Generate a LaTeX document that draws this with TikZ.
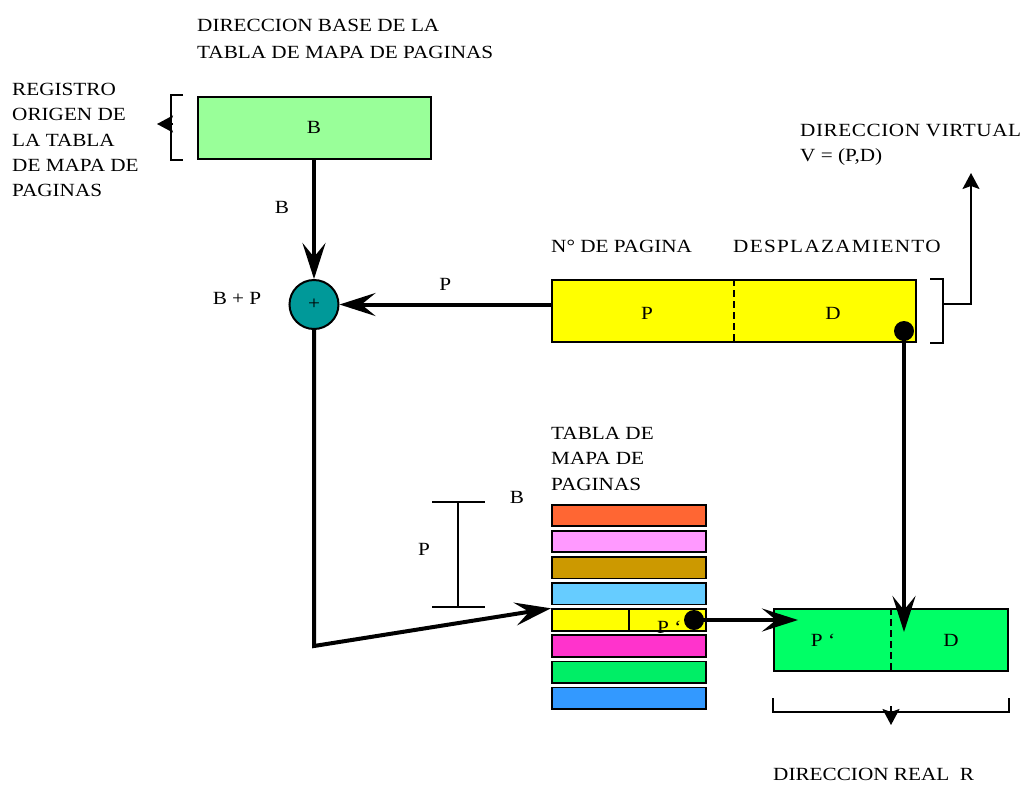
\documentclass[tikz,border=0pt]{standalone}
\usepackage{fontspec}
\setmainfont{Liberation Serif}[FakeStretch=1.14]
\usepackage{tikz}
\usetikzlibrary{arrows.meta,positioning,calc}
\definecolor{regGreen}{HTML}{99FF99}
\definecolor{virtYellow}{HTML}{FFFF00}
\definecolor{realGreen}{HTML}{00FF66}
\definecolor{sumTeal}{HTML}{009999}
\definecolor{rowA}{HTML}{FF6633}
\definecolor{rowB}{HTML}{FF99FF}
\definecolor{rowC}{HTML}{CC9900}
\definecolor{rowD}{HTML}{66CCFF}
\definecolor{rowE}{HTML}{FFFF00}
\definecolor{rowF}{HTML}{FF33CC}
\definecolor{rowG}{HTML}{00EE66}
\definecolor{rowH}{HTML}{3399FF}
\tikzset{
  box/.style={draw,line width=2pt,fill=#1,inner sep=0pt,minimum height=62pt,font=\fontsize{18.6}{25.3}\selectfont},
  box/.default={white},
  arr/.style={-{Stealth[length=36pt,width=23pt,inset=14pt]},line width=4pt},
  thn/.style={line width=1.7pt},
  tip/.style={-{Stealth[length=16pt,width=17pt,inset=3pt]},line width=1.7pt},
  lbl/.style={inner sep=0pt,font=\fontsize{18.6}{25.3}\selectfont},
  row/.style={draw,line width=1.8pt,fill=#1,minimum width=154.4pt,minimum height=21.4pt,inner sep=0pt},
  dsh/.style={line width=2.6pt,dash pattern=on 7pt off 4pt},
  dot/.style={circle,fill=black,minimum size=20pt,inner sep=0pt},
}
\begin{document}
\begin{tikzpicture}[x=1pt,y=-1pt]
 \useasboundingbox (0,0) rectangle (1034,788);
 % registro origen
 \node[box=regGreen,minimum width=233pt] (regB) at (314,127.5){B};
 \node[lbl,anchor=north west,align=left] (dirBase) at (197,19){DIRECCION BASE DE LA\\[2pt]TABLA DE MAPA DE PAGINAS};
 \node[lbl,anchor=north west,align=left] (regLbl) at (12,83){REGISTRO\\ORIGEN DE\\LA TABLA\\DE MAPA DE\\PAGINAS};
 \draw[thn] (183,95) -- (171,95) -- (171,160) -- (183,160);
 \coordinate (regOut) at (157,124);
 \draw[tip] (173,124) -- (regOut);
 % sumador
 \node[circle,draw,line width=2pt,fill=sumTeal,minimum size=49pt,inner sep=0pt,lbl] (sum) at (314,304.5){+};
 \node[lbl] (lblB) at (282,207){B};
 \node[lbl] (lblBP) at (237,298){B + P};
 \draw[arr] (regB.south) -- (sum.north);
 % direccion virtual
 \node[box=virtYellow,minimum width=364pt] (virt) at (734,311){};
 \draw[dsh] (virt.north) -- (virt.south);
 \node[lbl] (virtP) at (647,313){P};
 \node[lbl] (virtD) at (833,313){D};
 \node[lbl,anchor=west] (nPag) at (551,246){N° DE PAGINA};
 \node[lbl,anchor=west] (desp) at (733,246){\addfontfeature{LetterSpace=7}DESPLAZAMIENTO};
 \node[lbl,anchor=north west,align=left] (dirVirt) at (800,124){\addfontfeature{LetterSpace=3}DIRECCION VIRTUAL\\V = (P,D)};
 \draw[thn] (930,279) -- (943,279) -- (943,343) -- (930,343);
 \coordinate (virtOut) at (971,173);
 \draw[tip] (943,304) -- (971,304) -- (virtOut);
 \draw[arr] (sum.east -| virt.west) -- node[lbl,above=12pt]{P} (sum.east);
 \node[dot] (dotD) at (904,331){};
 % tabla de mapa de paginas
 \node[lbl,anchor=north west,align=left] (tabla) at (551,427){TABLA DE\\MAPA DE\\PAGINAS};
 \foreach \c [count=\i] in {rowA,rowB,rowC,rowD,rowE,rowF,rowG,rowH}{
   \node[row=\c] (tab\i) at (629,{489.4+26.1*\i}){};
 }
 \draw[line width=1.8pt] (tab5.north) -- (tab5.south);
 \node[lbl,anchor=base west] (tabP) at (657,633){P ‘};
 \node[dot] (dotP) at (694,620){};
 \node[lbl] (lblTB) at (517,497){B};
 \node[lbl] (lblTP) at (424,549){P};
 \draw[thn] (432,502) -- (485,502) (458,502) -- (458,607) (432,607) -- (485,607);
 \coordinate (bend) at (314,646);
 \draw[arr] (sum.south) -- (bend) -- (tab5.north west);
 % direccion real
 \node[box=realGreen,minimum width=234pt] (realAddr) at (891,640){};
 \draw[dsh] (realAddr.north) -- (realAddr.south);
 \node[lbl] (realP) at (823,640){P ‘};
 \node[lbl] (realD) at (951,640){D};
 \coordinate (tipD) at ($(dotD |- realAddr.north)+(0,24)$);
 \coordinate (tipP) at ($(dotP -| realAddr.west)+(25,0)$);
 \draw[arr] (dotD.center) -- (tipD);
 \draw[arr] (dotP.center) -- (tipP);
 \draw[thn] (773,698) -- (773,712) -- (1009,712) -- (1009,698);
 \coordinate (realOut) at (891,725);
 \draw[tip] (891,706) -- (realOut);
 \node[lbl,anchor=base west] (dirReal) at (773,780){DIRECCION REAL~ R};
\end{tikzpicture}
\end{document}
